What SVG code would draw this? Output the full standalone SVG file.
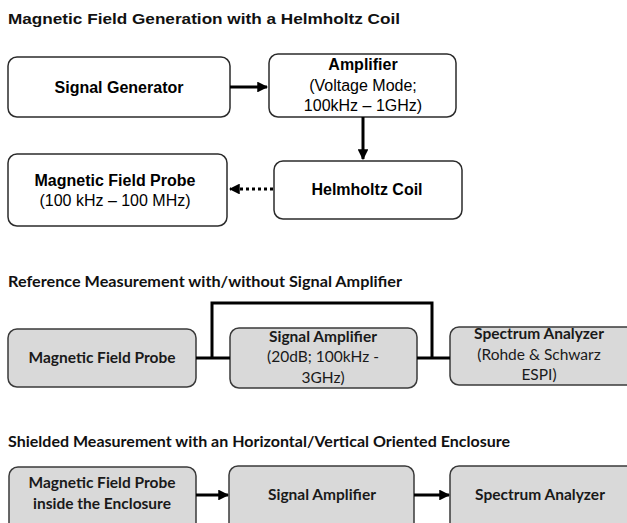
<svg xmlns="http://www.w3.org/2000/svg" width="627" height="523" viewBox="0 0 627 523">
<defs>
<style>
.bg{fill:#ffffff}
.w{fill:#ffffff;stroke:#2b2b2b;stroke-width:1.5}
.g{fill:#d9d9d9;stroke:#3a3a3a;stroke-width:1.5}
.ta{font-family:"Liberation Sans",Arial,sans-serif;fill:#000;text-anchor:middle;font-size:16px}
.tab{font-weight:bold}
.tc{font-family:Lato,"Open Sans",sans-serif;fill:#1a1a1a;text-anchor:middle;font-size:15.5px}
.tcb{font-weight:bold}
.title1{font-family:"Liberation Sans",Arial,sans-serif;font-weight:bold;font-size:15px;fill:#111}
.title2{font-family:Lato,"Open Sans",sans-serif;font-weight:bold;font-size:14.5px;fill:#111}
.ln{stroke:#000;stroke-width:3;fill:none}
</style>
<marker id="ah" viewBox="0 0 10 10" refX="9" refY="5" markerWidth="3.6" markerHeight="3.6" orient="auto" markerUnits="strokeWidth">
<path d="M0,0 L10,5 L0,10 Z" fill="#000"/>
</marker>
</defs>
<rect class="bg" width="627" height="523"/>

<text class="title1" x="8" y="24" textLength="392" lengthAdjust="spacingAndGlyphs">Magnetic Field Generation  with a Helmholtz Coil</text>
<text class="title2" x="8" y="287" textLength="394" lengthAdjust="spacingAndGlyphs">Reference Measurement with/without Signal Amplifier</text>
<text class="title2" x="8" y="447" textLength="502" lengthAdjust="spacingAndGlyphs">Shielded Measurement with an Horizontal/Vertical Oriented Enclosure</text>

<g id="signal-generator">
<rect class="w" x="8" y="57" width="222" height="60" rx="9"/>
<text class="ta tab" x="119" y="93">Signal Generator</text>
</g>
<g id="amplifier">
<rect class="w" x="269" y="54" width="187" height="63" rx="9"/>
<text class="ta tab" x="363" y="70">Amplifier</text>
<text class="ta" x="363" y="91">(Voltage Mode;</text>
<text class="ta" x="363" y="111">100kHz – 1GHz)</text>
</g>
<g id="helmholtz-coil">
<rect class="w" x="274" y="161" width="188" height="58" rx="9"/>
<text class="ta tab" x="367" y="195">Helmholtz Coil</text>
</g>
<g id="probe-top">
<rect class="w" x="8" y="154" width="219" height="72" rx="9"/>
<text class="ta tab" x="115" y="186">Magnetic Field Probe</text>
<text class="ta" x="115" y="206">(100 kHz – 100 MHz)</text>
</g>

<g id="probe-ref">
<rect class="g" x="8" y="329" width="188" height="58" rx="9"/>
<text class="tc tcb" x="102" y="363">Magnetic Field Probe</text>
</g>
<g id="amp-ref">
<rect class="g" x="230" y="328" width="187" height="60" rx="9"/>
<text class="tc tcb" x="323" y="342">Signal Amplifier</text>
<text class="tc" x="323" y="362">(20dB; 100kHz -</text>
<text class="tc" x="323" y="383">3GHz)</text>
</g>
<g id="sa-ref">
<rect class="g" x="450" y="327" width="185" height="58" rx="9"/>
<text class="tc tcb" x="539" y="339">Spectrum Analyzer</text>
<text class="tc" x="539" y="360">(Rohde &amp; Schwarz</text>
<text class="tc" x="539" y="380">ESPI)</text>
</g>

<g id="probe-enc">
<rect class="g" x="9" y="467" width="187" height="70" rx="9"/>
<text class="tc tcb" x="102" y="488">Magnetic Field Probe</text>
<text class="tc tcb" x="102" y="509">inside the Enclosure</text>
</g>
<g id="amp-enc">
<rect class="g" x="229" y="466" width="185" height="70" rx="9"/>
<text class="tc tcb" x="322" y="500">Signal Amplifier</text>
</g>
<g id="sa-enc">
<rect class="g" x="450" y="466" width="185" height="70" rx="9"/>
<text class="tc tcb" x="540" y="500">Spectrum Analyzer</text>
</g>

<g id="connectors">
<line class="ln" x1="230" y1="87" x2="267" y2="87" marker-end="url(#ah)"/>
<line class="ln" x1="363" y1="117" x2="363" y2="159" marker-end="url(#ah)"/>
<line class="ln" x1="273" y1="189" x2="230" y2="189" stroke-dasharray="3,3" marker-end="url(#ah)"/>
<polyline class="ln" points="196,358 230,358"/>
<polyline class="ln" points="417,358 450,358"/>
<polyline class="ln" points="212,358 212,303 432,303 432,358"/>
<line class="ln" x1="196" y1="495" x2="228" y2="495" marker-end="url(#ah)"/>
<line class="ln" x1="414" y1="495" x2="449" y2="495" marker-end="url(#ah)"/>
</g>
</svg>
